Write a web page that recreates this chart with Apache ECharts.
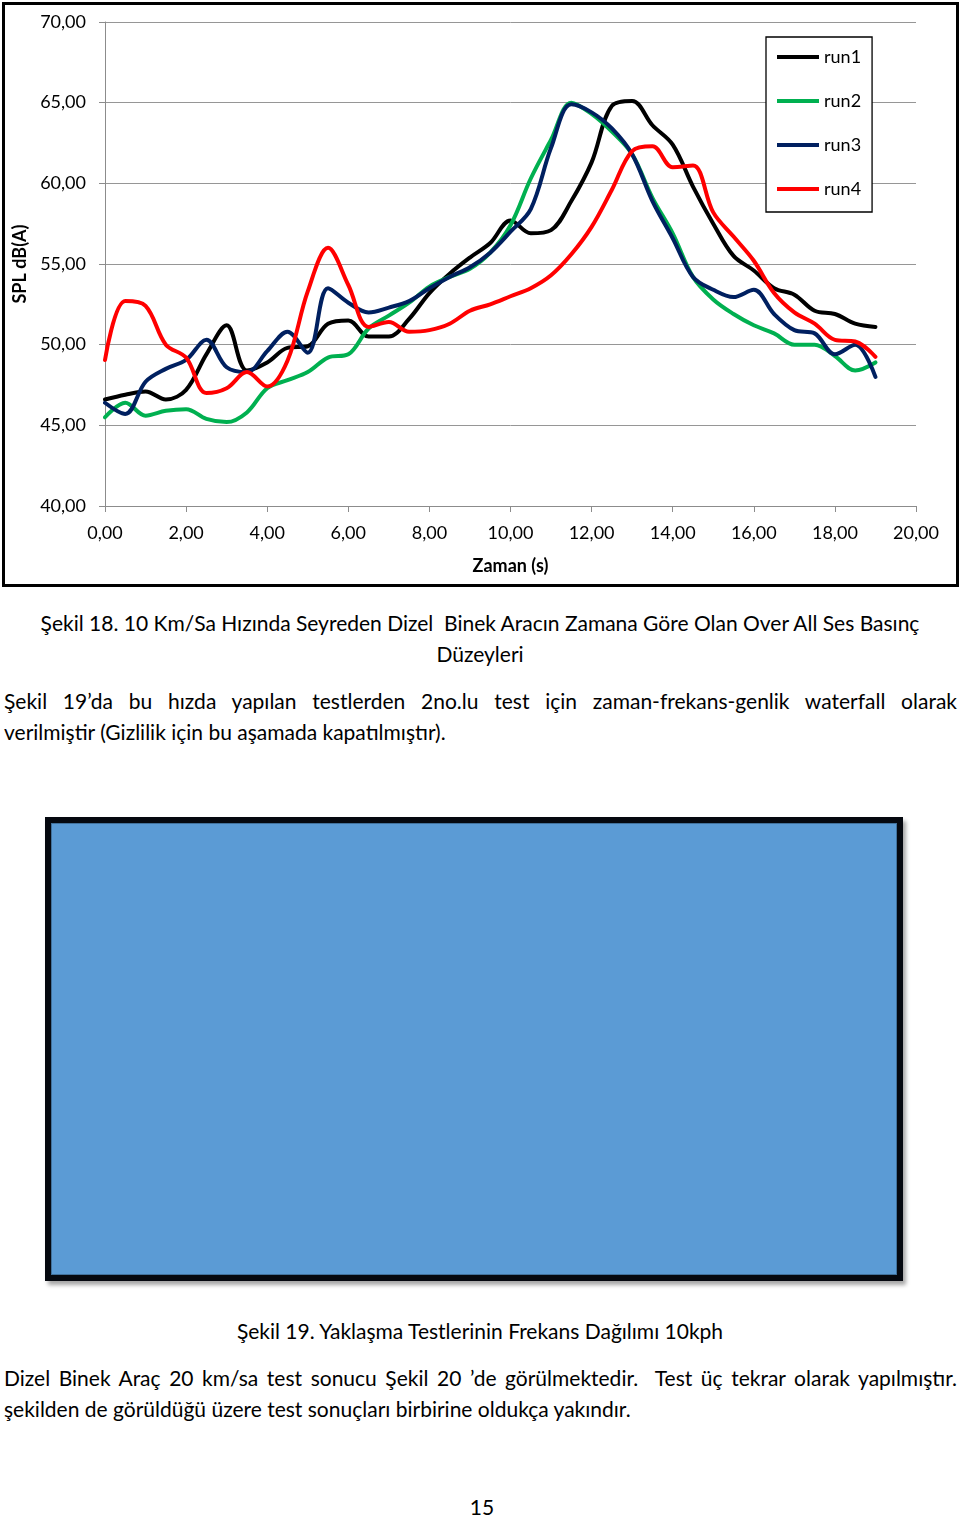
<!DOCTYPE html>
<html>
<head>
<meta charset="utf-8">
<script src="https://cdn.jsdelivr.net/npm/echarts@6/dist/echarts.min.js"></script>
<style>
  html, body { margin: 0; padding: 0; background: #fff; }
  body { width: 960px; height: 1517px; position: relative; overflow: hidden; font-family: Lato, "Open Sans", sans-serif; color: #000; }
  .frame { position: absolute; left: 2px; top: 2px; width: 957px; height: 585px; box-sizing: border-box; border: 3px solid #000; }
  #chart { position: absolute; left: 0; top: 0; width: 960px; height: 590px; }
  .ln { position: absolute; font-size: 21px; line-height: 31px; white-space: nowrap; }
  .center { left: 0; width: 960px; text-align: center; }
  .just { left: 4px; width: 953px; text-align: justify; text-align-last: justify; }
  .left { left: 4px; }
  .blue { position: absolute; left: 45px; top: 817px; width: 858px; height: 464px; box-sizing: border-box; border: 6px solid #05080f; background: #5B9BD5; box-shadow: 3px 4px 4px rgba(0,0,0,0.35); }
  .blue::after { content: ""; position: absolute; left: 0; top: 0; right: 0; bottom: 0; border: 1px solid #41719C; }
</style>
</head>
<body>
<div class="frame"></div>
<div id="chart"></div>

<div class="ln center" style="top:607px">Şekil 18. 10 Km/Sa Hızında Seyreden Dizel&nbsp; Binek Aracın Zamana Göre Olan Over All Ses Basınç</div>
<div class="ln center" style="top:638px">Düzeyleri</div>
<div class="ln just" style="top:685px">Şekil 19’da bu hızda yapılan testlerden 2no.lu test için zaman-frekans-genlik waterfall olarak</div>
<div class="ln left" style="top:716px">verilmiştir (Gizlilik için bu aşamada kapatılmıştır).</div>

<div class="blue"></div>

<div class="ln center" style="top:1315px">Şekil 19. Yaklaşma Testlerinin Frekans Dağılımı 10kph</div>
<div class="ln just" style="top:1362px">Dizel Binek Araç 20 km/sa test sonucu Şekil 20 ’de görülmektedir.&nbsp; Test üç tekrar olarak yapılmıştır.</div>
<div class="ln left" style="top:1393px">şekilden de görüldüğü üzere test sonuçları birbirine oldukça yakındır.</div>
<div class="ln center" style="top:1491px;left:2px">15</div>

<script>
const times = [0,0.5,1,1.5,2,2.5,3,3.5,4,4.5,5,5.5,6,6.5,7,7.5,8,8.5,9,9.5,10,10.5,11,11.5,12,12.5,13,13.5,14,14.5,15,15.5,16,16.5,17,17.5,18,18.5,19];
const run1 = [46.6,46.9,47.1,46.6,47.2,49.4,51.2,48.4,48.9,49.8,49.9,51.3,51.5,50.5,50.5,51.6,53.2,54.4,55.4,56.3,57.7,56.9,57.1,58.9,61.3,64.8,65.1,63.6,62.4,59.8,57.5,55.5,54.6,53.5,53.1,52.1,51.9,51.3,51.1];
const run2 = [45.5,46.4,45.6,45.9,46.0,45.4,45.2,45.8,47.3,47.8,48.3,49.2,49.4,51.0,51.8,52.6,53.6,54.2,54.7,55.7,57.4,60.3,62.7,65.0,64.3,63.2,61.8,59.1,56.9,54.2,52.8,51.9,51.2,50.7,50.0,50.0,49.3,48.4,48.9];
const run3 = [46.4,45.7,47.7,48.5,49.05,50.3,48.6,48.3,49.6,50.8,49.5,53.5,52.6,52.0,52.3,52.7,53.5,54.2,54.8,55.7,57.0,58.4,62.2,64.9,64.4,63.4,61.8,58.9,56.6,54.2,53.4,52.95,53.4,51.9,50.9,50.7,49.4,50.0,48.0];
const run4 = [49.05,52.7,52.4,50.0,49.2,47.0,47.3,48.3,47.4,49.0,53.3,56.0,53.7,51.1,51.4,50.8,50.9,51.3,52.1,52.5,53.0,53.5,54.3,55.6,57.3,59.6,62.0,62.3,61.0,61.1,58.2,56.7,55.2,53.2,52.0,51.3,50.3,50.2,49.25];
const seriesNames = ['run1','run2','run3','run4'];
const seriesColors = ['#000000','#00B050','#002060','#FF0000'];
const xAxisTitle = 'Zaman (s)';
const yAxisTitle = 'SPL dB(A)';

const allRuns = [run1, run2, run3, run4];
const fmt = v => v.toFixed(2).replace('.', ',');
const FONT = 'Lato, "Open Sans", sans-serif';

const chart = echarts.init(document.getElementById('chart'), null, { renderer: 'canvas' });
chart.setOption({
  animation: false,
  textStyle: { fontFamily: FONT },
  grid: { left: 105, right: 44, top: 22, bottom: 84, containLabel: false },
  legend: {
    orient: 'vertical',
    left: 766, top: 37,
    padding: [11, 11, 14, 11],
    itemGap: 26,
    itemWidth: 42, itemHeight: 4,
    icon: 'rect',
    borderColor: '#000', borderWidth: 1.3, backgroundColor: '#fff',
    textStyle: { fontFamily: FONT, fontSize: 18, color: '#000' },
    data: seriesNames
  },
  xAxis: {
    type: 'value', min: 0, max: 20, interval: 2,
    name: xAxisTitle, nameLocation: 'middle', nameGap: 51,
    nameTextStyle: { fontFamily: FONT, fontSize: 18, fontWeight: 'bold', color: '#000' },
    axisLine: { show: true, lineStyle: { color: '#8c8c8c', width: 1 } },
    axisTick: { show: true, inside: false, length: 6, lineStyle: { color: '#8c8c8c' } },
    axisLabel: { margin: 18, fontSize: 18, color: '#000', fontFamily: FONT, formatter: fmt },
    splitLine: { show: false }
  },
  yAxis: {
    type: 'value', min: 40, max: 70, interval: 5,
    name: yAxisTitle, nameLocation: 'middle', nameGap: 71, nameRotate: 90,
    nameTextStyle: { fontFamily: FONT, fontSize: 18, fontWeight: 'bold', color: '#000' },
    axisLine: { show: true, lineStyle: { color: '#8c8c8c', width: 1 } },
    axisTick: { show: true, inside: false, length: 6, lineStyle: { color: '#8c8c8c' } },
    axisLabel: { margin: 19, fontSize: 18, color: '#000', fontFamily: FONT, formatter: fmt },
    splitLine: { show: true, lineStyle: { color: '#969696', width: 1 } }
  },
  series: seriesNames.map((name, i) => ({
    name: name,
    type: 'line',
    smooth: 0.35,
    showSymbol: false,
    symbol: 'none',
    data: times.map((t, k) => [t, allRuns[i][k]]),
    itemStyle: { color: seriesColors[i] },
    lineStyle: { color: seriesColors[i], width: 4, cap: 'round', join: 'round' },
    z: 2 + i
  }))
});
</script>
</body>
</html>
